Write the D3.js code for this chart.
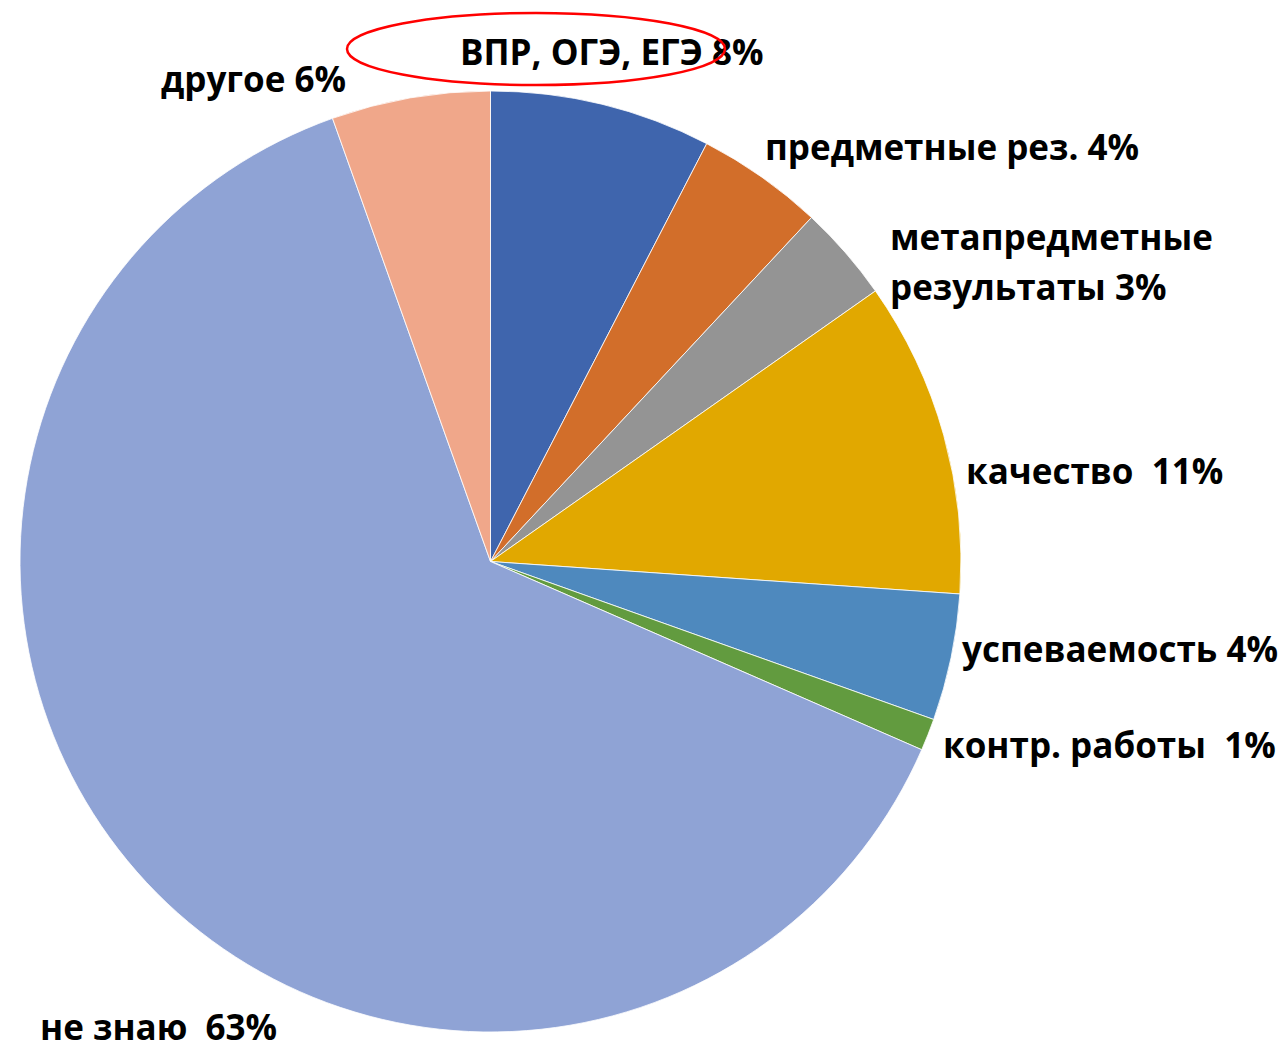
<!DOCTYPE html>
<html>
<head>
<meta charset="utf-8">
<script src="https://cdn.jsdelivr.net/npm/d3@7"></script>
<style>
  body { margin: 0; background: #fff; }
  svg { display: block; }
  .lbl { font-family: "Open Sans", sans-serif; font-weight: bold; font-size: 35px; fill: #000; }
</style>
</head>
<body>
<svg id="chart" width="1284" height="1051"></svg>
<script>
const categories = ['ВПР, ОГЭ, ЕГЭ', 'предметные рез.', 'метапредметные результаты', 'качество', 'успеваемость', 'контр. работы', 'не знаю', 'другое'];
const values = [7.6, 4.35, 3.3, 10.85, 4.35, 1.1, 63.0, 5.45];
const pctLabels = ['8%', '4%', '3%', '11%', '4%', '1%', '63%', '6%'];
const colors = ['#3F65AD', '#D26E2A', '#949494', '#E1A800', '#4E89BE', '#629B3F', '#8FA3D5', '#F0A78A'];

// where the labels sit (moved by hand in the original)
const labelPos = [
  { x: 460, y: 65, lines: ['ВПР, ОГЭ, ЕГЭ 8%'] },
  { x: 765, y: 160, lines: ['предметные рез. 4%'] },
  { x: 890, y: 250, lines: ['метапредметные', 'результаты 3%'] },
  { x: 966, y: 484, lines: ['качество  11%'] },
  { x: 962, y: 662, lines: ['успеваемость 4%'] },
  { x: 943, y: 758, lines: ['контр. работы  1%'] },
  { x: 40, y: 1040, lines: ['не знаю  63%'] },
  { x: 161, y: 92, lines: ['другое 6%'] }
];

const cx = 490.5, cy = 561.5, r = 470.5;
const svg = d3.select('#chart');

const pie = d3.pie().sort(null).value(d => d);
const arc = d3.arc().innerRadius(0).outerRadius(r);

const g = svg.append('g').attr('transform', `translate(${cx},${cy})`);
g.selectAll('path')
  .data(pie(values))
  .enter()
  .append('path')
  .attr('d', arc)
  .attr('fill', (d, i) => colors[i])
  .attr('stroke', '#fff')
  .attr('stroke-width', 0.8);

labelPos.forEach((p, i) => {
  const t = svg.append('text').attr('class', 'lbl').attr('x', p.x).attr('y', p.y);
  p.lines.forEach((ln, j) => {
    t.append('tspan').attr('x', p.x).attr('dy', j ? 50 : 0).attr('xml:space', 'preserve').text(ln);
  });
});

// red hand-drawn ellipse around the first label
svg.append('ellipse')
  .attr('cx', 536).attr('cy', 49).attr('rx', 189).attr('ry', 36)
  .attr('fill', 'none').attr('stroke', '#FF0000').attr('stroke-width', 2.5);
</script>
</body>
</html>
